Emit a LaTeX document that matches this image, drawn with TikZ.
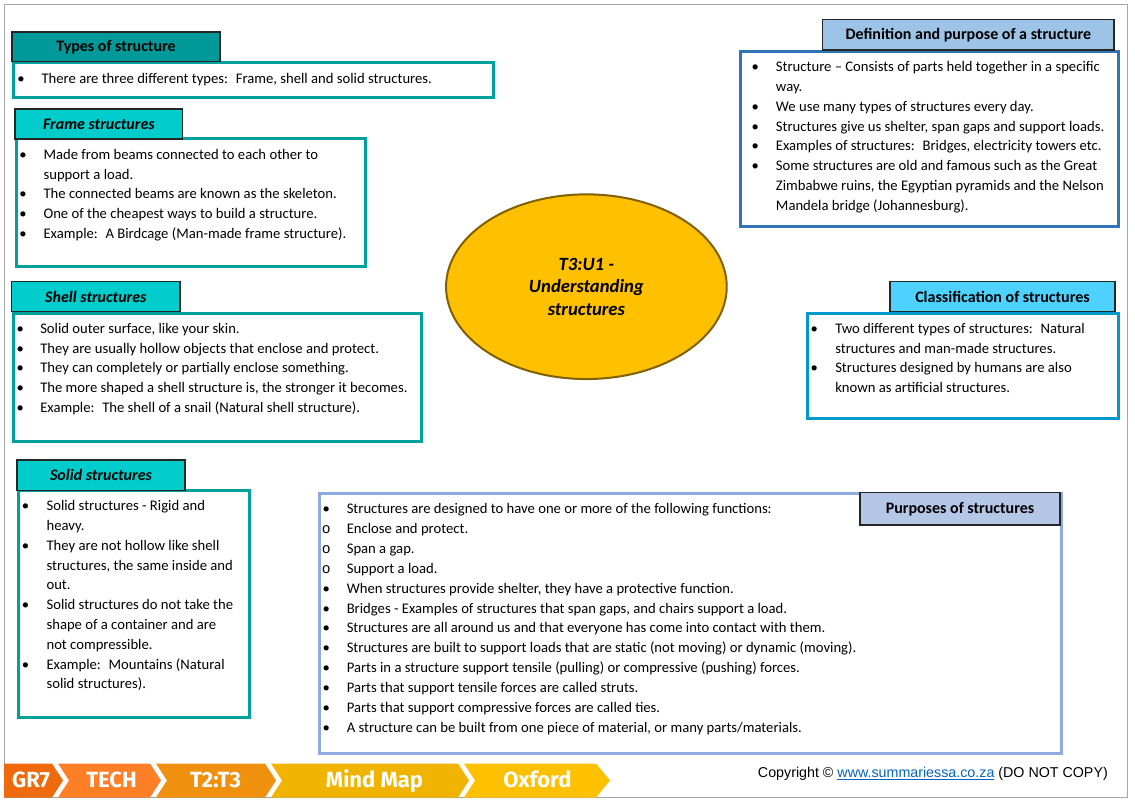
\documentclass[tikz,border=0pt]{standalone}
\usepackage{fontspec}
\setmainfont{Carlito}
\newfontfamily\banf{Fira Sans}
\newfontfamily\copyf{Liberation Sans}
\newfontfamily\monof{Liberation Mono}
\usetikzlibrary{shapes.geometric}

\definecolor{tealH}{HTML}{009999}
\definecolor{tealB}{HTML}{00A19D}
\definecolor{turq}{HTML}{00CCCC}
\definecolor{defH}{HTML}{9DC3E6}
\definecolor{defB}{HTML}{2E75B6}
\definecolor{claH}{HTML}{4DD2FF}
\definecolor{claB}{HTML}{0099CC}
\definecolor{purH}{HTML}{B4C7E7}
\definecolor{purB}{HTML}{8FAADC}
\definecolor{ellF}{HTML}{FFC000}
\definecolor{ellB}{HTML}{806000}
\definecolor{segA}{HTML}{EE6A0C}
\definecolor{segB}{HTML}{FF7F27}
\definecolor{segC}{HTML}{F0900F}
\definecolor{segD}{HTML}{F0B400}
\definecolor{segE}{HTML}{FFC000}
\definecolor{linkc}{HTML}{0563C1}
\definecolor{pageB}{HTML}{A6A6A6}
\definecolor{hdrB}{HTML}{262626}

\newlength\bD
\setlength\bD{15.5pt}
\newcommand\bitem[1]{\hbox{\llap{\makebox[0pt][c]{\textbullet}\hspace{\bD}}#1}}
\newcommand\citem[1]{\hbox{#1}}
\newcommand\oitem[1]{\hbox{\llap{\makebox[0pt][c]{\monof o}\hspace{\bD}}#1}}
\newcommand\blk[1]{\vtop{\baselineskip=14.85pt\lineskiplimit=-20pt\lineskip=0pt #1}}

\tikzset{
  body/.style={inner sep=0, anchor=base west, font=\fontsize{11pt}{14.85pt}\selectfont},
  hdr/.style={draw=hdrB, line width=0.9pt, inner sep=0, font=\fontsize{12pt}{14pt}\selectfont\bfseries},
  ihdr/.style={hdr, font=\fontsize{12pt}{14pt}\selectfont\bfseries\itshape},
  bodybox/.style={line width=2.25pt},
  segtext/.style={inner sep=0, anchor=base, text=white, font=\banf\bfseries\fontsize{16.5pt}{18pt}\selectfont}
}

\begin{document}
\begin{tikzpicture}[x=0.75pt, y=-0.75pt]
\useasboundingbox (0,0) rectangle (1135,801);
\fill[white] (0,0) rectangle (1135,801);
\draw[pageB, line width=0.75pt] (4,4) rectangle (1127,797.5);

% ---- Types of structure
\draw[bodybox, tealB] (13.8,62.2) rectangle (493.5,97.2);
\node[hdr, fill=tealH, minimum width=156pt, minimum height=22.3pt] (typesH) at (116,46.85) {Types of structure};
\node[body] (typesT) at (41.3,83) {\setlength\bD{15.45pt}\blk{%
  \bitem{There are three different types:~ Frame, shell and solid structures.}}};

% ---- Frame structures
\draw[bodybox, tealB] (16.5,138.2) rectangle (365.2,266.5);
\node[ihdr, fill=turq, minimum width=125.8pt, minimum height=22.5pt] (frameH) at (98.85,124) {Frame structures};
\node[body] (frameT) at (43.3,159.3) {\setlength\bD{15.45pt}\blk{%
  \bitem{Made from beams connected to each other to}
  \citem{support a load.}
  \bitem{The connected beams are known as the skeleton.}
  \bitem{One of the cheapest ways to build a structure.}
  \bitem{Example:~ A Birdcage (Man-made frame structure).}}};

% ---- Shell structures
\draw[bodybox, tealB] (13.2,313.2) rectangle (421.5,441.5);
\node[ihdr, fill=turq, minimum width=126.2pt, minimum height=22.5pt] (shellH) at (95.85,296.7) {Shell structures};
\node[body] (shellT) at (40,333.3) {\setlength\bD{15pt}\blk{%
  \bitem{Solid outer surface, like your skin.}
  \bitem{They are usually hollow objects that enclose and protect.}
  \bitem{They can completely or partially enclose something.}
  \bitem{The more shaped a shell structure is, the stronger it becomes.}
  \bitem{Example:~ The shell of a snail (Natural shell structure).}}};

% ---- Solid structures
\draw[bodybox, tealB] (18.5,490.5) rectangle (249.5,717.5);
\node[ihdr, fill=turq, minimum width=126pt, minimum height=22.9pt] (solidH) at (101,475.25) {Solid structures};
\node[body] (solidT) at (46.3,510.7) {\setlength\bD{15.75pt}\blk{%
  \bitem{Solid structures - Rigid and}
  \citem{heavy.}
  \bitem{They are not hollow like shell}
  \citem{structures, the same inside and}
  \citem{out.}
  \bitem{Solid structures do not take the}
  \citem{shape of a container and are}
  \citem{not compressible.}
  \bitem{Example:~ Mountains (Natural}
  \citem{solid structures).}}};

% ---- Definition and purpose
\draw[bodybox, defB] (740.5,51.5) rectangle (1118,226.5);
\node[hdr, fill=defH, minimum width=218.5pt, minimum height=23pt] (defH) at (968.35,34.65) {Definition and purpose of a structure};
\node[body] (defT) at (775.7,71.7) {\setlength\bD{15.5pt}\blk{%
  \bitem{Structure – Consists of parts held together in a specific}
  \citem{way.}
  \bitem{We use many types of structures every day.}
  \bitem{Structures give us shelter, span gaps and support loads.}
  \bitem{Examples of structures:~ Bridges, electricity towers etc.}
  \bitem{Some structures are old and famous such as the Great}
  \citem{Zimbabwe ruins, the Egyptian pyramids and the Nelson}
  \citem{Mandela bridge (Johannesburg).}}};

% ---- Centre ellipse
\node[ellipse, draw=ellB, line width=1.5pt, fill=ellF, inner sep=0,
      minimum width=210.5pt, minimum height=138.5pt, align=center,
      font=\fontsize{14pt}{16.9pt}\selectfont\bfseries\itshape] (centre) at (586.4,286.7)
      {T3:U1 -\\Understanding\\structures};

% ---- Classification
\draw[bodybox, claB] (807.5,313.2) rectangle (1118.5,418.5);
\node[hdr, fill=claH, minimum width=168.75pt, minimum height=22.5pt] (claH) at (1002.5,296.7) {Classification of structures};
\node[body] (claT) at (835,333.3) {\setlength\bD{15.75pt}\blk{%
  \bitem{Two different types of structures:~ Natural}
  \citem{structures and man-made structures.}
  \bitem{Structures designed by humans are also}
  \citem{known as artificial structures.}}};

% ---- Purposes
\draw[bodybox, purB] (319.5,493.5) rectangle (1061.5,753.5);
\node[hdr, fill=purH, minimum width=150pt, minimum height=24.2pt] (purH) at (960,508.85) {Purposes of structures};
\node[body] (purT) at (346.5,513.3) {\setlength\bD{15.4pt}\vtop{\baselineskip=14.96pt\lineskiplimit=-20pt\lineskip=0pt
  \bitem{Structures are designed to have one or more of the following functions:}
  \oitem{Enclose and protect.}
  \oitem{Span a gap.}
  \oitem{Support a load.}
  \bitem{When structures provide shelter, they have a protective function.}
  \bitem{Bridges - Examples of structures that span gaps, and chairs support a load.}
  \bitem{Structures are all around us and that everyone has come into contact with them.}
  \bitem{Structures are built to support loads that are static (not moving) or dynamic (moving).}
  \bitem{Parts in a structure support tensile (pulling) or compressive (pushing) forces.}
  \bitem{Parts that support tensile forces are called struts.}
  \bitem{Parts that support compressive forces are called ties.}
  \bitem{A structure can be built from one piece of material, or many parts/materials.}}};

% ---- Bottom banner
\fill[segA] (4,763.5) -- (52,763.5) -- (63,780.5) -- (52,797.5) -- (4,797.5) -- cycle;
\fill[segB] (58,763.5) -- (150,763.5) -- (161,780.5) -- (150,797.5) -- (58,797.5) -- (69,780.5) -- cycle;
\fill[segC] (156,763.5) -- (265,763.5) -- (276,780.5) -- (265,797.5) -- (156,797.5) -- (167,780.5) -- cycle;
\fill[segD] (271,763.5) -- (458,763.5) -- (469,780.5) -- (458,797.5) -- (271,797.5) -- (282,780.5) -- cycle;
\fill[segE] (464,763.5) -- (596,763.5) -- (610,780.5) -- (596,797.5) -- (464,797.5) -- (475,780.5) -- cycle;
\node[segtext] (bGR) at (31,787) {GR7};
\node[segtext] (bTE) at (111.5,787) {TECH};
\node[segtext] (bTT) at (215.5,787) {T2:T3};
\node[segtext] (bMM) at (374.5,787) {Mind Map};
\node[segtext] (bOX) at (537.5,787) {Oxford};

\node[inner sep=0, anchor=base west, font=\copyf\fontsize{10.7pt}{12pt}\selectfont] (copy) at (757.7,777)
  {Copyright © \textcolor{linkc}{\underline{www.summariessa.co.za}} (DO NOT COPY)};
\end{tikzpicture}
\end{document}
